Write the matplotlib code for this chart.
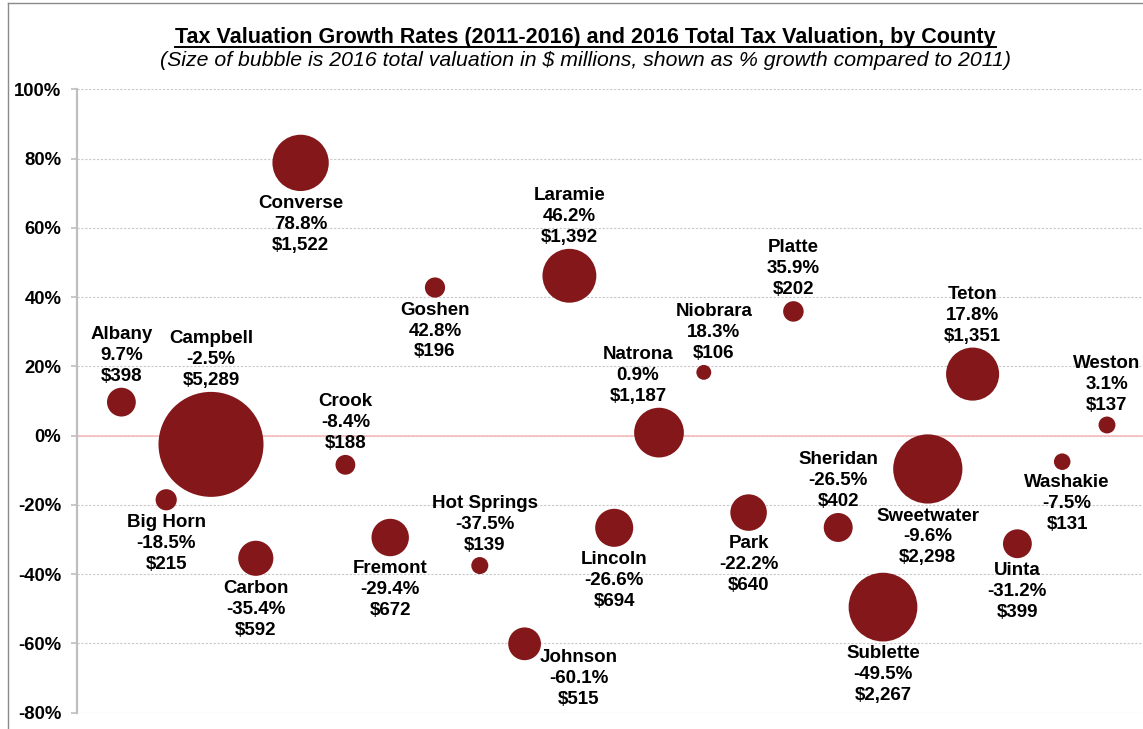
import matplotlib.pyplot as plt
from matplotlib.lines import Line2D
import numpy as np

plt.rcParams['font.family'] = ['Liberation Sans', 'DejaVu Sans']

counties = ['Albany', 'Big Horn', 'Campbell', 'Carbon', 'Converse', 'Crook',
            'Fremont', 'Goshen', 'Hot Springs', 'Johnson', 'Laramie', 'Lincoln',
            'Natrona', 'Niobrara', 'Park', 'Platte', 'Sheridan', 'Sublette',
            'Sweetwater', 'Teton', 'Uinta', 'Washakie', 'Weston']
growth = [9.7, -18.5, -2.5, -35.4, 78.8, -8.4, -29.4, 42.8, -37.5, -60.1, 46.2,
          -26.6, 0.9, 18.3, -22.2, 35.9, -26.5, -49.5, -9.6, 17.8, -31.2, -7.5, 3.1]
valuation = [398, 215, 5289, 592, 1522, 188, 672, 196, 139, 515, 1392, 694,
             1187, 106, 640, 202, 402, 2267, 2298, 1351, 399, 131, 137]

# where Excel put each data label
placement = ['above', 'below', 'above', 'below', 'below', 'above', 'below',
             'below', 'above', 'right', 'above', 'below', 'above', 'above',
             'below', 'above', 'above', 'below', 'below', 'above', 'below',
             'below', 'above']
# labels nudged sideways by hand in the original (pixels)
nudge = {'Washakie': 5, 'Hot Springs': 5, 'Natrona': -21, 'Niobrara': 10}

yticks = [-80, -60, -40, -20, 0, 20, 40, 60, 80, 100]

title = 'Tax Valuation Growth Rates (2011-2016) and 2016 Total Tax Valuation, by County'
subtitle = '(Size of bubble is 2016 total valuation in $ millions, shown as % growth compared to 2011)'

W, H = 1143, 729
fig = plt.figure(figsize=(W / 100, H / 100), dpi=100)
ax = fig.add_axes([76.6 / W, 16.3 / H, 1075.2 / W, (712.7 - 89.5) / H])

red = '#841719'
x = np.arange(1, len(counties) + 1)
g = np.array(growth) / 100
v = np.array(valuation, dtype=float)
big = v.max()
ax.scatter(x, g, s=v * 75.6 ** 2 / big, color=red, linewidths=0, zorder=3)

ax.set_xlim(0, 24)
ax.set_ylim(-0.8, 1.0)
ax.set_yticks([t / 100 for t in yticks])
ax.set_yticklabels(['{}%'.format(t) for t in yticks], fontsize=13.3, fontweight='bold')
ax.set_xticks([])
for s in ['top', 'right', 'bottom']:
    ax.spines[s].set_visible(False)
ax.spines['left'].set_color('#bfbfbf')
ax.spines['left'].set_linewidth(1.6)
ax.tick_params(axis='y', length=4, width=1.2, color='#bfbfbf', pad=7)
ax.yaxis.grid(True, color='#c8c8c8', linestyle=(0, (2, 1.5)), linewidth=0.8)
ax.set_axisbelow(True)
ax.axhline(0, color='#f5bcbc', linewidth=1.2, zorder=1)

for xi, gi, vi, name, gr, pos in zip(x, g, v, counties, growth, placement):
    r = 52.5 * np.sqrt(vi / big)
    txt = '{}\n{:.1f}%\n${:,.0f}'.format(name, gr, vi)
    if pos == 'above':
        off, va = (0, r + 3), 'bottom'
    elif pos == 'below':
        off, va = (0, -r - 4), 'top'
    else:
        off, va = (54, -5), 'top'
    off = (off[0] + nudge.get(name, 0), off[1])
    ax.annotate(txt, (xi, gi), xytext=off, textcoords='offset pixels',
                ha='center', va=va, fontsize=13.5, fontweight='bold',
                linespacing=1.3, zorder=4)

t = fig.text(585.5 / W, 1 - 43.5 / H, title, ha='center', va='baseline',
             fontsize=15.5, fontweight='bold')
fig.text(586 / W, 1 - 65.5 / H, subtitle, ha='center', va='baseline',
         fontsize=15.3, style='italic')

fig.canvas.draw()
bb = t.get_window_extent()
uy = (H - 46.5) / H
fig.add_artist(Line2D([bb.x0 / W, bb.x1 / W], [uy, uy], color='black', lw=1.4))

# chart border (cropped on right and bottom)
fig.add_artist(Line2D([8 / W, 1], [1 - 3 / H, 1 - 3 / H], color='#8a8a8a', lw=1))
fig.add_artist(Line2D([8 / W, 8 / W], [0, 1 - 3 / H], color='#8a8a8a', lw=1))

fig.savefig('out.png', dpi=100)
